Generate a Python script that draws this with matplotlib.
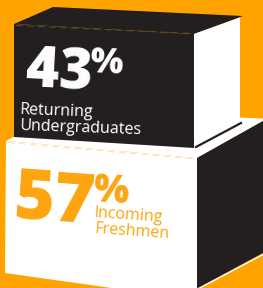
import matplotlib
matplotlib.use("Agg")
import matplotlib.pyplot as plt
from matplotlib.patches import Polygon

# ---- data ----
percentages = [43, 57]
label_lines = [["Returning", "Undergraduates"], ["Incoming", "Freshmen"]]

# ---- styles ----
ORANGE = "#FFA300"
DARK = "#231F20"
WHITE = "#FFFFFF"
TXT_ORANGE = "#FDA50F"
FONT = ["Open Sans", "DejaVu Sans"]

W, H = 263, 288
fig = plt.figure(figsize=(W / 100, H / 100), dpi=100)
fig.patch.set_facecolor(ORANGE)
ax = fig.add_axes([0, 0, 1, 1])
ax.set_xlim(0, W)
ax.set_ylim(H, 0)
ax.axis("off")
ax.set_facecolor(ORANGE)


def poly(pts, color, z):
    ax.add_patch(Polygon(pts, closed=True, facecolor=color, edgecolor="none", zorder=z))


# ---- lower box (57%) ----
poly([(6, 141), (60, 112), (239, 117.5), (263, 118.5), (263, 121), (197, 158)], WHITE, 1)  # top face
poly([(6, 141), (197, 158), (197, 300), (5, 273)], WHITE, 1)  # front face
poly([(197, 158), (263, 121), (263, 253), (197, 288.5)], DARK, 2)  # side face
ax.plot([197, 263], [289.5, 254.5], color=WHITE, lw=1.0, zorder=2)
ax.plot([8, 196], [142.5, 159], color="#FCDDA5", lw=0.8, ls=(0, (6, 4)), alpha=0.8, zorder=2)

# ---- upper box (43%) ----
poly([(14, 24), (53, 7), (243, 16), (194, 34)], DARK, 3)  # top face
poly([(14, 24), (194, 34), (194, 148), (14, 137)], DARK, 3)  # front face
poly([(194, 34), (240, 17.5), (240, 121), (194, 147)], WHITE, 3)  # side face
ax.plot([195, 242], [147.5, 122.5], color=DARK, lw=1.6, zorder=4, solid_capstyle="butt")
ax.plot([16, 192], [25.5, 33.5], color="#6B5328", lw=0.8, ls=(0, (6, 4)), alpha=0.8, zorder=4)

# ---- texts ----
big_specs = [
    dict(num=(25, 87), pct=(89, 72.5), rot=-3, size=41, psize=25, color=WHITE,
         lines=[(20, 114), (20, 130.5)], lsize=11.5, lrot=-2),
    dict(num=(13, 218), pct=(92, 201), rot=-4, size=50, psize=27, color=TXT_ORANGE,
         lines=[(94, 217), (94, 233)], lsize=11.5, lrot=-4),
]

for val, lines, sp in zip(percentages, label_lines, big_specs):
    ax.text(*sp["num"], f"{val}", fontsize=sp["size"], fontweight=800, family=FONT,
            color=sp["color"], ha="left", va="baseline", rotation=sp["rot"],
            rotation_mode="anchor", zorder=5)
    ax.text(*sp["pct"], "%", fontsize=sp["psize"], fontweight=800, family=FONT,
            color=sp["color"], ha="left", va="baseline", rotation=sp["rot"],
            rotation_mode="anchor", zorder=5)
    for (x, y), t in zip(sp["lines"], lines):
        ax.text(x, y, t, fontsize=sp["lsize"], family=FONT, color=sp["color"],
                ha="left", va="baseline", rotation=sp["lrot"],
                rotation_mode="anchor", zorder=5)

fig.savefig("out.png", dpi=100, facecolor=ORANGE)
